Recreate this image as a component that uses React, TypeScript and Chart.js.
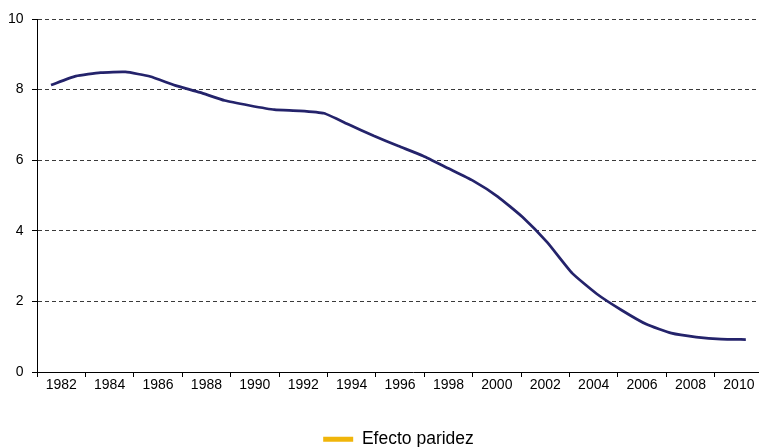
import React, { useEffect, useRef } from "react";
import { Chart, registerables } from "chart.js";

Chart.register(...registerables);

const years = [
  1982, 1983, 1984, 1985, 1986, 1987, 1988, 1989, 1990, 1991, 1992, 1993, 1994, 1995, 1996,
  1997, 1998, 1999, 2000, 2001, 2002, 2003, 2004, 2005, 2006, 2007, 2008, 2009, 2010,
];
const values = [
  8.13, 8.38, 8.48, 8.5, 8.37, 8.12, 7.92, 7.69, 7.55, 7.43, 7.4, 7.33, 7.01, 6.69, 6.4,
  6.12, 5.77, 5.42, 4.97, 4.39, 3.67, 2.8, 2.21, 1.75, 1.35, 1.1, 0.99, 0.93, 0.92,
];
const tickLabels = [
  "1982", "1984", "1986", "1988", "1990", "1992", "1994", "1996", "1998", "2000",
  "2002", "2004", "2006", "2008", "2010",
];
const legendLabel = "Efecto paridez";

const FONT = "'Liberation Sans', Arial, sans-serif";

export default function App() {
  const ref = useRef<HTMLCanvasElement | null>(null);

  useEffect(() => {
    if (!ref.current) return;
    const chart = new Chart(ref.current, {
      type: "line",
      data: {
        datasets: [
          {
            label: "serie",
            data: years.map((y, i) => ({ x: y, y: values[i] })),
            borderColor: "#24236B",
            backgroundColor: "#24236B",
            borderWidth: 2.75,
            pointRadius: 0,
            tension: 0.15,
            xAxisID: "x",
            yAxisID: "y",
          },
          {
            label: legendLabel,
            data: [],
            borderColor: "#F0B50A",
            backgroundColor: "#F0B50A",
            borderWidth: 0,
            pointRadius: 0,
            xAxisID: "x",
            yAxisID: "y",
          },
        ],
      },
      options: {
        animation: false,
        responsive: false,
        layout: { padding: { left: 8, top: 19, right: 0, bottom: 0 } },
        plugins: {
          title: { display: false },
          tooltip: { enabled: false },
          legend: {
            position: "bottom",
            labels: {
              filter: (item: any) => item.text === legendLabel,
              boxWidth: 30,
              boxHeight: 5,
              padding: 36.7,
              color: "#000",
              font: { family: FONT, size: 17.5 },
            },
          },
        },
        scales: {
          x: {
            type: "linear",
            display: false,
            min: 1981.436,
            max: 2011.74,
          },
          xt: {
            type: "linear",
            position: "bottom",
            min: 0,
            max: 31.07,
            afterBuildTicks: (scale: any) => {
              const t = [];
              for (let j = 0; j <= 30; j++) t.push({ value: j });
              scale.ticks = t;
            },
            grid: {
              drawOnChartArea: false,
              drawTicks: true,
              tickLength: 5,
              tickColor: (ctx: any) =>
                ctx.tick && ctx.tick.value % 2 === 0 ? "#000" : "rgba(0,0,0,0)",
            },
            border: { display: true, color: "#000", width: 1 },
            ticks: {
              autoSkip: false,
              maxRotation: 0,
              minRotation: 0,
              padding: 0,
              color: "#000",
              font: { family: FONT, size: 14 },
              callback: (v: any) => {
                const j = Math.round(Number(v));
                if (j % 2 === 1) {
                  const k = (j - 1) / 2;
                  return k < tickLabels.length ? tickLabels[k] : "";
                }
                return "";
              },
            },
          },
          y: {
            type: "linear",
            min: 0,
            max: 10,
            afterFit: (scale: any) => {
              scale.width = 29;
            },
            ticks: {
              stepSize: 2,
              padding: 8.5,
              color: "#000",
              font: { family: FONT, size: 14 },
            },
            grid: {
              color: (ctx: any) =>
                ctx.tick && ctx.tick.value === 0 ? "rgba(0,0,0,0)" : "#3a3a3a",
              tickColor: "#000",
              tickLength: 5,
              lineWidth: 1,
            },
            border: { display: true, color: "#000", width: 1, dash: [4, 3] },
          },
        },
      },
    } as any);
    return () => chart.destroy();
  }, []);

  return (
    <div
      style={{
        position: "fixed",
        left: 0,
        top: 0,
        width: 759,
        height: 447,
        overflow: "hidden",
        background: "#fff",
      }}
    >
      <canvas ref={ref} width={789} height={458} style={{ display: "block" }} />
    </div>
  );
}
